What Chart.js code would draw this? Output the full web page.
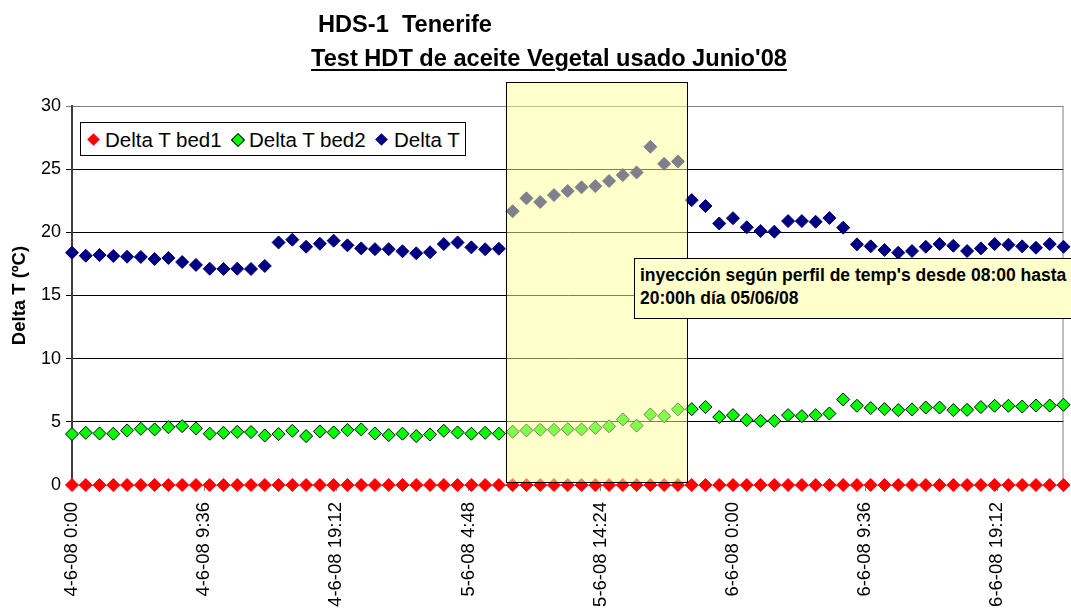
<!DOCTYPE html>
<html>
<head>
<meta charset="utf-8">
<script src="https://cdn.jsdelivr.net/npm/chart.js@4.4.1/dist/chart.umd.min.js"></script>
<style>
  html, body { margin: 0; padding: 0; background: #fff; }
  body { width: 1071px; height: 612px; overflow: hidden; position: relative; font-family: 'Liberation Sans', Arial, sans-serif; }
  #grafico { position: absolute; left: 0; top: 0; }
  .titulo { position: absolute; font-weight: bold; font-size: 23.6px; line-height: 1; white-space: nowrap; color: #000; }
  #titulo2 { text-decoration: underline; text-decoration-thickness: 2px; text-underline-offset: 3px; }
  #leyenda { position: absolute; left: 80px; top: 122px; width: 384px; height: 32px; border: 1px solid #000; background: #fff; }
  #leyenda .marca { position: absolute; width: 9px; height: 9px; transform: rotate(45deg); }
  #leyenda .texto { position: absolute; top: 7px; font-size: 20.5px; line-height: 1; white-space: nowrap; }
  #nota { position: absolute; left: 634px; top: 258px; width: 500px; height: 61px; border: 1px solid #000; background: #ffffcc;
          font-weight: bold; font-size: 17.5px; line-height: 23px; padding: 5px 0 0 5px; box-sizing: border-box; white-space: nowrap; }
</style>
</head>
<body>
<canvas id="grafico" width="1071" height="612"></canvas>
<div class="titulo" id="titulo1" style="left:318px; top:13px;">HDS-1&nbsp; Tenerife</div>
<div class="titulo" id="titulo2" style="left:311px; top:47px;">Test HDT de aceite Vegetal usado Junio'08</div>
<div id="leyenda">
  <div class="marca" style="left:8px; top:12px; background:#ff0000;"></div>
  <div class="texto" style="left:24px;">Delta T bed1</div>
  <div class="marca" style="left:152px; top:12px; width:8px; height:8px; background:#00ff00; border:1px solid #000;"></div>
  <div class="texto" style="left:168px;">Delta T bed2</div>
  <div class="marca" style="left:296px; top:12px; background:#000080;"></div>
  <div class="texto" style="left:313px;">Delta T</div>
</div>
<div id="nota">inyección según perfil de temp's desde 08:00 hasta<br>20:00h día 05/06/08</div>
<script>
// Horas desde 4-6-08 0:00 (un dato por hora)
const HORAS = [
  0, 1, 2, 3, 4, 5, 6, 7, 8, 9, 10, 11, 12, 13, 14, 15, 16, 17, 18, 19, 20, 21, 22, 23,
  24, 25, 26, 27, 28, 29, 30, 31, 32, 33, 34, 35, 36, 37, 38, 39, 40, 41, 42, 43, 44, 45, 46, 47,
  48, 49, 50, 51, 52, 53, 54, 55, 56, 57, 58, 59, 60, 61, 62, 63, 64, 65, 66, 67, 68, 69, 70, 71, 72
];
const DELTA_T_BED1 = [
  0, 0, 0, 0, 0, 0, 0, 0, 0, 0, 0, 0, 0, 0, 0, 0, 0, 0, 0, 0, 0, 0, 0, 0,
  0, 0, 0, 0, 0, 0, 0, 0, 0, 0, 0, 0, 0, 0, 0, 0, 0, 0, 0, 0, 0, 0, 0, 0,
  0, 0, 0, 0, 0, 0, 0, 0, 0, 0, 0, 0, 0, 0, 0, 0, 0, 0, 0, 0, 0, 0, 0, 0, 0
];
const DELTA_T_BED2 = [
  4.03, 4.13, 4.08, 4.06, 4.32, 4.45, 4.40, 4.58, 4.66, 4.48, 4.06, 4.13, 4.21, 4.19, 3.92, 4.03,
  4.29, 3.87, 4.24, 4.16, 4.35, 4.40, 4.08, 3.95, 4.06, 3.87, 4.00, 4.29, 4.16, 4.06, 4.13, 4.06,
  4.22, 4.32, 4.37, 4.37, 4.42, 4.40, 4.52, 4.65, 5.19, 4.70, 5.58, 5.45, 5.99, 6.00, 6.17, 5.38,
  5.53, 5.14, 5.08, 5.08, 5.53, 5.45, 5.53, 5.66, 6.77, 6.27, 6.09, 6.01, 5.93, 5.98, 6.13, 6.13,
  5.93, 5.95, 6.17, 6.27, 6.27, 6.21, 6.29, 6.29, 6.35
];
const DELTA_T = [
  18.39, 18.15, 18.20, 18.13, 18.07, 18.05, 17.89, 17.97, 17.65, 17.42, 17.12, 17.10, 17.12, 17.10, 17.34, 19.20,
  19.42, 18.86, 19.10, 19.34, 18.97, 18.73, 18.67, 18.67, 18.50, 18.34, 18.42, 19.07, 19.20, 18.81, 18.66, 18.70,
  21.67, 22.69, 22.40, 22.95, 23.27, 23.56, 23.66, 24.06, 24.53, 24.74, 26.77, 25.42, 25.61, 22.55, 22.08, 20.70,
  21.12, 20.40, 20.10, 20.05, 20.89, 20.89, 20.84, 21.13, 20.37, 19.05, 18.89, 18.60, 18.39, 18.52, 18.86, 19.07,
  18.94, 18.52, 18.73, 19.07, 19.02, 18.89, 18.78, 19.07, 18.86
];
// Marcas del eje X (cada 9:36 h)
const TICK_HORAS = [0, 9.6, 19.2, 28.8, 38.4, 48, 57.6, 67.2];
const TICK_ETIQUETAS = ['4-6-08 0:00', '4-6-08 9:36', '4-6-08 19:12', '5-6-08 4:48', '5-6-08 14:24', '6-6-08 0:00', '6-6-08 9:36', '6-6-08 19:12'];
// Zona de inyección (08:00 a 20:00 del 05/06), en unidades de los ejes
const ZONA_X = [31.55, 44.65];
const ZONA_Y = [0.25, 31.9];

const FUENTE = "'Liberation Sans', Arial, sans-serif";

const puntos = (valores) => HORAS.map((h, i) => ({ x: h, y: valores[i] })); // pares x/y para el scatter

const zonaPlugin = { // marco derecho y rectángulo amarillo semitransparente
    id: 'zona',
    beforeDatasetsDraw(chart) {
        const { ctx, chartArea: a } = chart;
        ctx.save();
        ctx.strokeStyle = '#808080';
        ctx.lineWidth = 1;
        ctx.beginPath();
        ctx.moveTo(a.right - 0.5, a.top);
        ctx.lineTo(a.right - 0.5, a.bottom);
        ctx.stroke();
        ctx.restore();
    },
    afterDatasetsDraw(chart) {
        const { ctx, scales: { x, y } } = chart;
        const x0 = Math.round(x.getPixelForValue(ZONA_X[0])) + 0.5;
        const x1 = Math.round(x.getPixelForValue(ZONA_X[1])) + 0.5;
        const y0 = Math.round(y.getPixelForValue(ZONA_Y[1])) + 0.5;
        const y1 = Math.round(y.getPixelForValue(ZONA_Y[0])) + 0.5;
        ctx.save();
        ctx.fillStyle = 'rgba(255,255,153,0.5)';
        ctx.fillRect(x0, y0, x1 - x0, y1 - y0);
        ctx.strokeStyle = '#000';
        ctx.lineWidth = 1;
        ctx.strokeRect(x0, y0, x1 - x0, y1 - y0);
        ctx.restore();
    }
};

const serie = (label, valores, relleno, borde) => ({ // dataset de solo marcadores en rombo
    label,
    data: puntos(valores),
    showLine: false,
    pointStyle: 'rectRot',
    pointRadius: 6.5,
    pointHoverRadius: 6.5,
    pointBackgroundColor: relleno,
    pointBorderColor: borde,
    pointBorderWidth: 1,
    clip: false,
});

new Chart(document.getElementById('grafico'), {
    type: 'scatter',
    data: {
        datasets: [
            serie('Delta T bed1', DELTA_T_BED1, '#ff0000', '#ff0000'),
            serie('Delta T bed2', DELTA_T_BED2, '#00ff00', '#000000'),
            serie('Delta T', DELTA_T, '#000080', '#000080'),
        ],
    },
    options: {
        responsive: false,
        animation: false,
        events: [],
        layout: { padding: { top: 106, right: 5, left: 0, bottom: 0 } },
        plugins: { legend: { display: false }, tooltip: { enabled: false } },
        scales: {
            x: {
                type: 'linear',
                min: 0,
                max: 72,
                afterBuildTicks: (axis) => { axis.ticks = TICK_HORAS.map(v => ({ value: v })); },
                afterFit: (axis) => { axis.height = 127; },
                ticks: {
                    autoSkip: false,
                    minRotation: 90,
                    maxRotation: 90,
                    padding: 11,
                    color: '#000',
                    font: { family: FUENTE, size: 18.5 },
                    callback: (value, index) => TICK_ETIQUETAS[index],
                },
                grid: { drawOnChartArea: false, drawTicks: true, tickLength: 6, color: '#808080' },
                border: { display: true, color: '#808080' },
            },
            y: {
                min: 0,
                max: 30,
                afterFit: (axis) => { axis.width = 72; },
                ticks: { stepSize: 5, padding: 5, color: '#000', font: { family: FUENTE, size: 18 } },
                grid: {
                    tickLength: 6,
                    color: (c) => (c.tick && c.tick.value === 30 ? '#808080' : '#000000'),
                },
                border: { color: '#404040', width: 2 },
                title: {
                    display: true,
                    text: 'Delta T (ºC)',
                    color: '#000',
                    padding: { top: 9, bottom: 0 },
                    font: { family: FUENTE, size: 18.5, weight: 'bold' },
                },
            },
        },
    },
    plugins: [zonaPlugin],
});
</script>
</body>
</html>
